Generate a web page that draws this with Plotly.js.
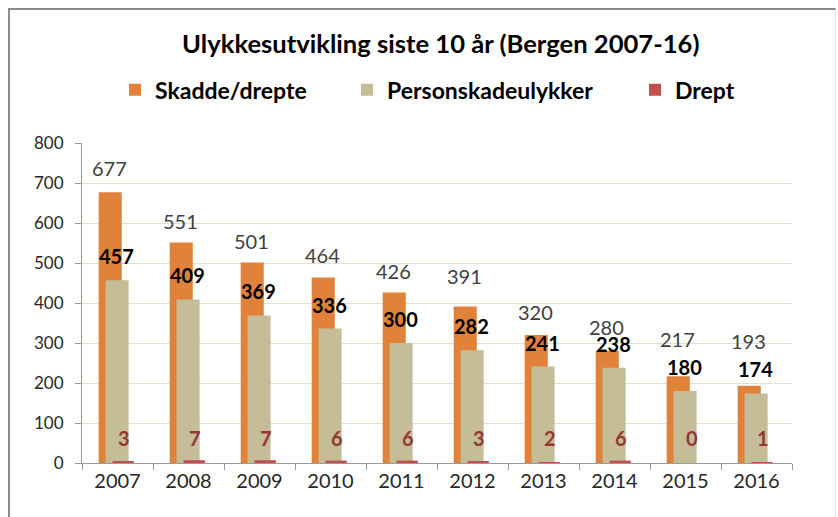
<!DOCTYPE html>
<html>
<head>
<meta charset="utf-8">
<script src="https://cdn.plot.ly/plotly-3.0.1.min.js"></script>
<style>
  html, body { margin: 0; padding: 0; background: #fff; }
  #wrap { position: relative; width: 838px; height: 517px; }
  #chart { width: 838px; height: 517px; }
  #frame { position: absolute; left: 8px; top: 8px; right: 2px; bottom: -10px;
           border-left: 2px solid #8a8a8a; border-top: 2px solid #8a8a8a;
           border-right: 1px solid #e6e6e6; pointer-events: none; }
</style>
</head>
<body>
<div id="wrap">
  <div id="chart"></div>
  <div id="frame"></div>
</div>
<script>
const years = ["2007","2008","2009","2010","2011","2012","2013","2014","2015","2016"];
const skaddeDrepte = [677, 551, 501, 464, 426, 391, 320, 280, 217, 193];
const personskadeulykker = [457, 409, 369, 336, 300, 282, 241, 238, 180, 174];
const drept = [3, 7, 7, 6, 6, 3, 2, 6, 0, 1];
const yTicks = [0, 100, 200, 300, 400, 500, 600, 700, 800];

// label placement (pixels above bar top), as in the original chart's hand-moved labels
const orangeLabelLift = [24, 22, 22, 22, 22, 31, 23, 24, 37, 45];

const FONT = "Lato, 'Open Sans', sans-serif";
const cOrange = "#E0823A";
const cBeige = "#C4BD97";
const cRed = "#C0504D";

const traces = [
  { type: "bar", name: "Skadde/drepte", x: years, y: skaddeDrepte,
    marker: { color: cOrange, line: { width: 0 } }, offset: -0.265, width: 0.325,
    legend: "legend" },
  { type: "bar", name: "Personskadeulykker", x: years, y: personskadeulykker,
    marker: { color: cBeige, line: { width: 0 } }, offset: -0.168, width: 0.325,
    legend: "legend2" },
  { type: "bar", name: "Drept", x: years, y: drept,
    marker: { color: cRed, line: { width: 0 } }, offset: -0.07, width: 0.30,
    legend: "legend3" }
];

const annotations = [];
years.forEach((yr, i) => {
  annotations.push({ x: i, y: skaddeDrepte[i], xref: "x", yref: "y", text: String(skaddeDrepte[i]),
    showarrow: false, xshift: -8, yshift: orangeLabelLift[i], yanchor: "middle", xanchor: "center",
    font: { family: FONT, size: 20, color: "#404040" } });
  annotations.push({ x: i, y: personskadeulykker[i], xref: "x", yref: "y", text: "<b>" + personskadeulykker[i] + "</b>",
    showarrow: false, xshift: -1, yshift: 24, yanchor: "middle", xanchor: "center",
    font: { family: FONT, size: 20, color: "#000000" } });
  annotations.push({ x: i, y: 0, xref: "x", yref: "y", text: "<b>" + drept[i] + "</b>",
    showarrow: false, xshift: 6, yshift: 25, yanchor: "middle", xanchor: "center",
    font: { family: FONT, size: 20, color: "#953735" } });
});

const legendBase = {
  orientation: "h", yanchor: "middle", xanchor: "left", y: 1.166,
  font: { family: FONT, size: 23, color: "#000", weight: "bold" },
  bgcolor: "rgba(0,0,0,0)", itemwidth: 30
};

const layout = {
  width: 838, height: 517,
  margin: { l: 82, r: 46, t: 143, b: 54 },
  paper_bgcolor: "#fff", plot_bgcolor: "#fff",
  barmode: "overlay",
  showlegend: true,
  title: { text: "<b>Ulykkesutvikling siste 10 år (Bergen 2007-16)</b>",
    x: 0.526, xref: "container", y: 0.915, yref: "container", yanchor: "middle", xanchor: "center",
    font: { family: FONT, size: 25.6, color: "#000" } },
  legend: Object.assign({}, legendBase, { x: (115 - 82) / 710 }),
  legend2: Object.assign({}, legendBase, { x: (347 - 82) / 710 }),
  legend3: Object.assign({}, legendBase, { x: (635 - 82) / 710 }),
  xaxis: {
    type: "category", showgrid: false, showline: true, linecolor: "#9a9a9a", linewidth: 1,
    ticks: "outside", tickson: "boundaries", ticklen: 6, tickcolor: "#9a9a9a",
    tickfont: { family: FONT, size: 20, color: "#262626" }, range: [-0.5, 9.5]
  },
  yaxis: {
    range: [0, 800], tickvals: yTicks, showgrid: true, gridcolor: "#E4E0CC", gridwidth: 1,
    showline: true, linecolor: "#9a9a9a", linewidth: 1, zeroline: false,
    ticks: "outside", ticklen: 6, tickcolor: "#9a9a9a", ticklabelstandoff: 8,
    tickfont: { family: FONT, size: 17, color: "#262626" }
  },
  annotations: annotations
};

Plotly.newPlot("chart", traces, layout, { displayModeBar: false });
</script>
</body>
</html>
